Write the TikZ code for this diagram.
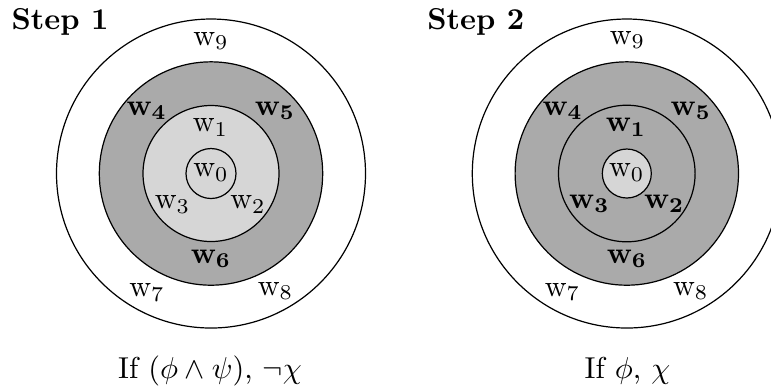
\documentclass[tikz,border=0pt]{standalone}
\usepackage{amsmath}
\definecolor{darkring}{RGB}{170,170,170}
\definecolor{lightring}{RGB}{214,214,214}
\tikzset{
  ring/.style={draw=black, line width=0.4pt},
  lab/.style={anchor=base, inner sep=0pt, font=\fontsize{10}{12}\selectfont},
  title/.style={anchor=base west, inner sep=0pt, font=\fontsize{10}{12}\selectfont\bfseries},
}
\begin{document}
\begin{tikzpicture}[x=0.331pt,y=-0.331pt]
\clip (0,0) rectangle (771,390);
\useasboundingbox (0,0) rectangle (771,390);
% ---------- Step 1 ----------
\coordinate (c1) at (211,173.5);
\draw[ring, fill=white] (c1) circle[radius=154.5];
\draw[ring, fill=darkring] (c1) circle[radius=111.7];
\draw[ring, fill=lightring] (c1) circle[radius=68];
\draw[ring, fill=lightring] (c1) circle[radius=25];
\node[title] (s1) at (11,29.3) {Step 1};
\node[lab] (a9) at (211,45) {$\mathrm{w}_9$};
\node[lab] (a4) at (146.7,115) {$\mathbf{w_4}$};
\node[lab] (a5) at (275,115) {$\mathbf{w_5}$};
\node[lab] (a1) at (210.5,131.7) {$\mathrm{w}_1$};
\node[lab] (a0) at (211,176.7) {$\mathrm{w}_0$};
\node[lab] (a3) at (172.5,208.5) {$\mathrm{w}_3$};
\node[lab] (a2) at (248,208.5) {$\mathrm{w}_2$};
\node[lab] (a6) at (211,263) {$\mathbf{w_6}$};
\node[lab] (a7) at (147,296.5) {$\mathrm{w}_7$};
\node[lab] (a8) at (275.5,295) {$\mathrm{w}_8$};
\node[lab] (f1) at (210,378) {If $(\phi \wedge \psi)$, $\neg \chi$};
% ---------- Step 2 ----------
\coordinate (c2) at (626.8,173.5);
\draw[ring, fill=white] (c2) circle[radius=154.5];
\draw[ring, fill=darkring] (c2) circle[radius=111.7];
\draw[ring, fill=darkring] (c2) circle[radius=68.3];
\draw[ring, fill=lightring] (c2) circle[radius=24.5];
\node[title] (s2) at (426.7,29.3) {Step 2};
\node[lab] (b9) at (627.5,44) {$\mathrm{w}_9$};
\node[lab] (b4) at (562.7,115) {$\mathbf{w_4}$};
\node[lab] (b5) at (690.8,115) {$\mathbf{w_5}$};
\node[lab] (b1) at (626,131.7) {$\mathbf{w_1}$};
\node[lab] (b0) at (626.7,176.7) {$\mathrm{w}_0$};
\node[lab] (b3) at (589.3,208.3) {$\mathbf{w_3}$};
\node[lab] (b2) at (664.2,208.3) {$\mathbf{w_2}$};
\node[lab] (b6) at (627,263) {$\mathbf{w_6}$};
\node[lab] (b7) at (562.5,296) {$\mathrm{w}_7$};
\node[lab] (b8) at (690.8,295) {$\mathrm{w}_8$};
\node[lab] (f2) at (627.5,378) {If $\phi$, $\chi$};
\end{tikzpicture}
\end{document}
